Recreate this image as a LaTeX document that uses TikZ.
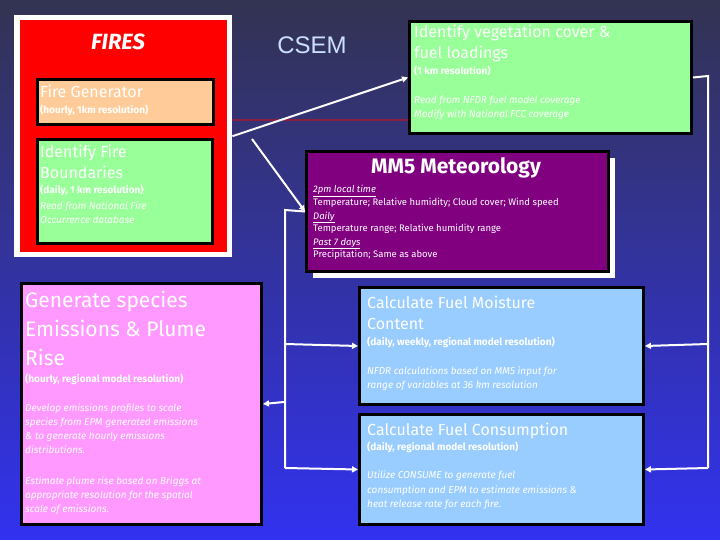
\documentclass[tikz,border=0pt]{standalone}
\usepackage{fontspec}
\setmainfont{Fira Sans}
\setsansfont{Liberation Sans}
\usetikzlibrary{arrows.meta}
\definecolor{peach}{HTML}{FFCC99}
\definecolor{lgreen}{HTML}{99FF99}
\definecolor{mpurple}{HTML}{800080}
\definecolor{lblue}{HTML}{99CCFF}
\definecolor{lpink}{HTML}{FF99FF}
\definecolor{csem}{HTML}{CCE0FF}
\definecolor{sepred}{HTML}{8A1E40}
\newcommand{\fs}[1]{\fontsize{#1}{#1}\selectfont}
\newcommand{\tl}[4]{\node[txt,font=#3] at (#1,#2) {#4};}
\begin{document}
\begin{tikzpicture}[x=1pt,y=-1pt,
  boxs/.style={draw=black,line width=3pt,anchor=north west,inner sep=0pt},
  txt/.style={anchor=base west,text=white,inner sep=0pt},
  conn/.style={draw=white,line width=2pt},
  arr/.style={conn,-{Triangle[length=6pt,width=6pt]}}]
\useasboundingbox (0,0) rectangle (720,540);
\shade[top color=black!85!blue!80,bottom color={rgb,255:red,50;green,50;blue,240}] (0,0) rectangle (720,540);
% FIRES
\node[fill=white,anchor=north west,minimum width=218pt,minimum height=242pt,inner sep=0pt] (firesw) at (14,15) {};
\node[fill=red,anchor=north west,minimum width=207pt,minimum height=232pt,inner sep=0pt] (fires) at (20,20) {};
\node[text=white,font=\fs{22}\bfseries\itshape] (firest) at (118,42) {FIRES};
\node[boxs,fill=peach,minimum width=176pt,minimum height=45pt] (gen) at (36,78) {};
\node[boxs,fill=lgreen,minimum width=175pt,minimum height=104pt] (bound) at (36,138) {};
\draw[sepred,line width=2pt] (232,120) -- (408,120);
\node[text=csem,font=\sffamily\fs{24}] (csemt) at (312,45) {CSEM};
\node[boxs,fill=lgreen,minimum width=282pt,minimum height=112pt] (veg) at (408,20) {};
\fill[white] (313,158) rectangle (615,278);
\node[boxs,fill=mpurple,minimum width=302pt,minimum height=120pt] (mm5) at (305,150) {};
\node[boxs,fill=lblue,minimum width=284pt,minimum height=117pt] (moist) at (358,286) {};
\node[boxs,fill=lblue,minimum width=284pt,minimum height=110pt] (cons) at (358,413) {};
\node[boxs,fill=lpink,minimum width=240pt,minimum height=241pt] (pink) at (20,282) {};
% texts
\tl{40}{98}{\fs{16}}{Fire Generator}
\tl{40}{114}{\fs{10}\bfseries}{(hourly, 1km resolution)}
\tl{40}{158}{\fs{16}}{Identify Fire}
\tl{40}{179}{\fs{16}}{Boundaries}
\tl{40}{194}{\fs{10}\bfseries}{(daily, 1 km resolution)}
\tl{40}{210}{\fs{10}\itshape}{Read from National Fire}
\tl{40}{224}{\fs{10}\itshape}{Occurrence database}
\tl{414}{38}{\fs{16}}{Identify vegetation cover \&}
\tl{414}{59}{\fs{16}}{fuel loadings}
\tl{414}{75}{\fs{10}\bfseries}{(1 km resolution)}
\tl{414}{104}{\fs{10}\itshape}{Read from NFDR fuel model coverage}
\tl{414}{118}{\fs{10}\itshape}{Modify with National FCC coverage}
\node[text=white,font=\fs{21}\bfseries] (mm5t) at (456,168) {MM5 Meteorology};
\tl{313}{193}{\fs{9.5}\itshape}{\underline{2pm local time}}
\tl{313}{206}{\fs{9.5}}{Temperature; Relative humidity; Cloud cover; Wind speed}
\tl{313}{219}{\fs{9.5}\itshape}{\underline{Daily}}
\tl{313}{232}{\fs{9.5}}{Temperature range; Relative humidity range}
\tl{313}{245}{\fs{9.5}\itshape}{\underline{Past 7 days}}
\tl{313}{258}{\fs{9.5}}{Precipitation; Same as above}
\tl{367}{308}{\fs{16}}{Calculate Fuel Moisture}
\tl{367}{329}{\fs{16}}{Content}
\tl{367}{345}{\fs{10}\bfseries}{(daily, weekly, regional model resolution)}
\tl{367}{374}{\fs{10}\itshape}{NFDR calculations based on MM5 input for}
\tl{367}{388}{\fs{10}\itshape}{range of variables at 36 km resolution}
\tl{367}{435}{\fs{16}}{Calculate Fuel Consumption}
\tl{367}{450}{\fs{10}\bfseries}{(daily, regional model resolution)}
\tl{367}{478}{\fs{10}\itshape}{Utilize CONSUME to generate fuel}
\tl{367}{493}{\fs{10}\itshape}{consumption and EPM to estimate emissions \&}
\tl{367}{507}{\fs{10}\itshape}{heat release rate for each fire.}
\tl{25}{307}{\fs{21}}{Generate species}
\tl{25}{336}{\fs{21}}{Emissions \& Plume}
\tl{25}{365}{\fs{21}}{Rise}
\tl{25}{382}{\fs{10}\bfseries}{(hourly, regional model resolution)}
\tl{25}{411}{\fs{10}\itshape}{Develop emissions profiles to scale}
\tl{25}{425}{\fs{10}\itshape}{species from EPM generated emissions}
\tl{25}{439}{\fs{10}\itshape}{\& to generate hourly emissions}
\tl{25}{453}{\fs{10}\itshape}{distributions.}
\tl{25}{484}{\fs{10}\itshape}{Estimate plume rise based on Briggs at}
\tl{25}{498}{\fs{10}\itshape}{appropriate resolution for the spatial}
\tl{25}{512}{\fs{10}\itshape}{scale of emissions.}
% connectors
\draw[arr] (firesw.east) -- (veg.west);
\coordinate (c1) at (252,139);
\draw[arr] (c1) -- (mm5.west);
\coordinate (lt) at (285,210);
\coordinate (lb) at (285,468);
\coordinate (lm) at (285,344);
\coordinate (lp) at (284,402);
\draw[conn] (mm5.west) -- (lt) -- (lb);
\draw[arr] (lm) -- (moist.west);
\draw[arr] (lb) -- (cons.west);
\draw[arr] (lp) -- (pink.east);
\coordinate (rt) at (708,76);
\coordinate (rb) at (708,468);
\coordinate (rm) at (708,344);
\draw[conn] (veg.east) -- (rt) -- (rb);
\draw[arr] (rm) -- (moist.east);
\draw[arr] (rb) -- (cons.east);
\end{tikzpicture}
\end{document}
